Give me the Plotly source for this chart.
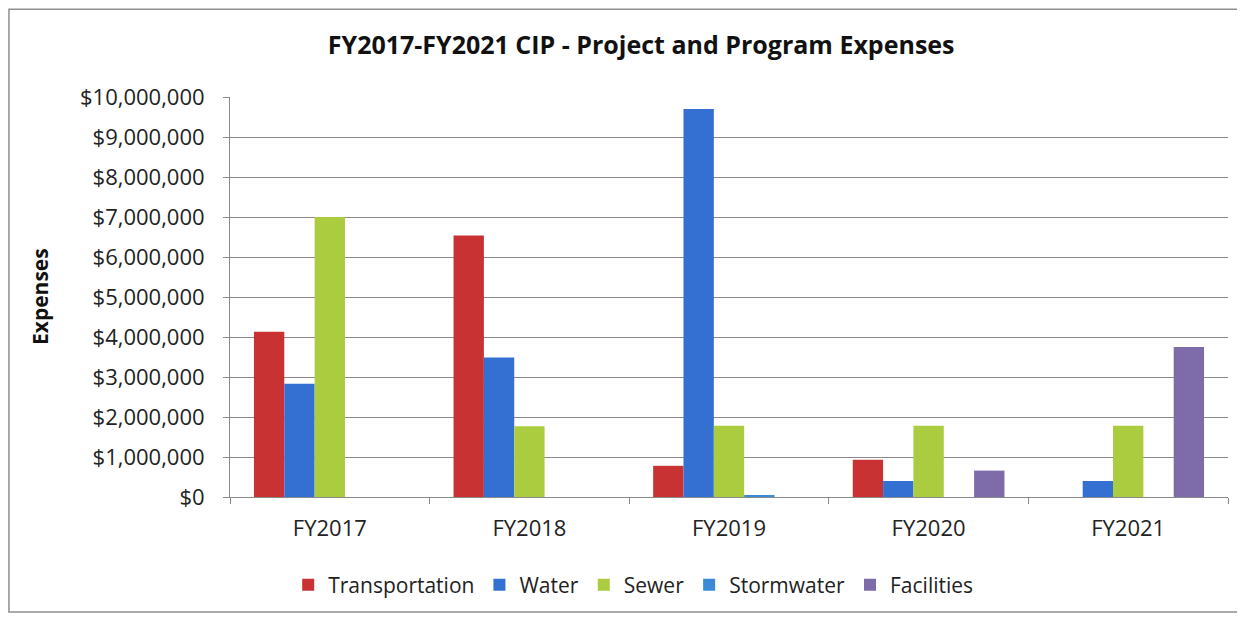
import plotly.graph_objects as go

categories = ["FY2017", "FY2018", "FY2019", "FY2020", "FY2021"]
transportation = [4130000, 6540000, 780000, 930000, 0]
water = [2830000, 3490000, 9700000, 400000, 400000]
sewer = [7000000, 1770000, 1780000, 1780000, 1780000]
stormwater = [0, 0, 50000, 0, 0]
facilities = [0, 0, 0, 660000, 3750000]

series_names = ["Transportation", "Water", "Sewer", "Stormwater", "Facilities"]
series_values = [transportation, water, sewer, stormwater, facilities]
series_colors = ["#C93232", "#3370D2", "#AACC3E", "#3A8AD6", "#7D6BAA"]

y_ticks = list(range(0, 10000001, 1000000))

FONT = "'Open Sans', sans-serif"

fig = go.Figure()
for name, vals, col in zip(series_names, series_values, series_colors):
    fig.add_trace(go.Bar(name=name, x=categories, y=vals, marker=dict(color=col, line=dict(width=0))))

W, H = 1237, 610
fig.update_layout(
    width=W, height=H,
    paper_bgcolor="white", plot_bgcolor="white",
    barmode="group", bargap=0.24, bargroupgap=0,
    margin=dict(l=222, r=17, t=89, b=121),
    font=dict(family=FONT, color="#222", size=22),
    title=dict(text="<b>FY2017-FY2021 CIP - Project and Program Expenses</b>",
               x=0.412, xanchor="center", xref="paper", y=1 - 37 / H, yanchor="middle",
               yref="container",
               font=dict(size=25, color="#111", family=FONT)),
    legend=dict(orientation="h", x=0.404, xanchor="center", xref="paper",
                y=-0.22, yanchor="middle", font=dict(size=21),
                itemwidth=30, traceorder="normal"),
    showlegend=True,
)
fig.update_yaxes(range=[0, 10000000], tickvals=y_ticks, tickformat="$,.0f",
                 showgrid=True, gridcolor="#8a8a8a", gridwidth=1,
                 showline=True, linecolor="#8a8a8a", linewidth=1,
                 ticks="outside", ticklen=6, tickcolor="#8a8a8a",
                 ticklabelstandoff=14, tickfont=dict(size=22),
                 zeroline=False)
fig.update_xaxes(showline=True, linecolor="#8a8a8a", linewidth=1,
                 ticks="outside", ticklen=6, tickcolor="#8a8a8a",
                 ticklabelstandoff=12, tickfont=dict(size=22),
                 tickson="boundaries", showgrid=False)

fig.add_annotation(text="<b>Expenses</b>", xref="paper", yref="paper",
                   x=(32 - 222) / 998, y=0.5, xanchor="center", yanchor="middle",
                   textangle=-90, showarrow=False, font=dict(size=21, color="#111"))

fig.add_shape(type="rect", xref="paper", yref="paper",
              x0=-0.2215, x1=1.01, y0=-0.2875, y1=1.2195,
              line=dict(color="#8f8f8f", width=1.5), fillcolor="rgba(0,0,0,0)", layer="below")

fig.write_html("out.html")
